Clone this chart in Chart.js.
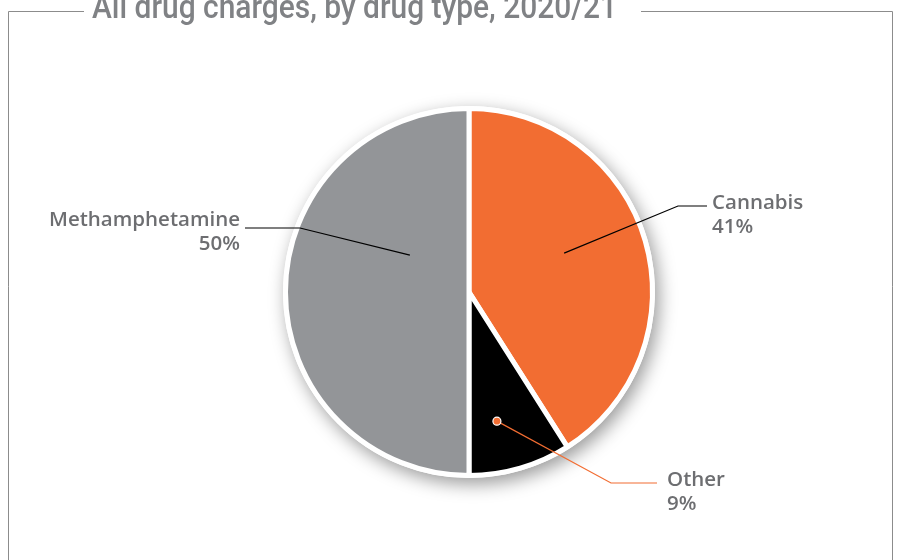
<!DOCTYPE html>
<html>
<head>
<meta charset="utf-8">
<script src="https://cdn.jsdelivr.net/npm/chart.js@4.4.0/dist/chart.umd.min.js"></script>
<style>
  html, body { margin: 0; padding: 0; background: #fff; }
</style>
</head>
<body>
<canvas id="canvas" width="902" height="560"></canvas>
<script>
// chart data
const chartTitle = 'All drug charges, by drug type, 2020/21';
const drugTypes = ['Cannabis', 'Other', 'Methamphetamine'];
const shares = [41, 9, 50];
const sliceColors = ['#f26d32', '#000000', '#939598'];

// callout layout, one per slice (angle offset from slice middle, depth into slice, elbow and text spot)
const callouts = [
  { dAngle: -6, depth: 0.56, elbow: [678, 206], end: [707, 206], text: [712, 209], align: 'left', color: '#000', dot: false },
  { dAngle: 4, depth: 0.72, elbow: [611, 483], end: [657, 483], text: [667, 486], align: 'left', color: '#f26d32', dot: true },
  { dAngle: 32, depth: 0.38, elbow: [300, 228], end: [245, 228], text: [240, 226], align: 'right', color: '#000', dot: false }
];

const frame = {
  id: 'frame',
  beforeDraw(chart) {
    const ctx = chart.ctx;
    ctx.save();
    ctx.strokeStyle = '#8c8c8c';
    ctx.lineWidth = 1;
    ctx.beginPath();
    ctx.moveTo(8.5, 600);
    ctx.lineTo(8.5, 11.5);
    ctx.lineTo(84, 11.5);
    ctx.moveTo(641, 11.5);
    ctx.lineTo(892.5, 11.5);
    ctx.lineTo(892.5, 600);
    ctx.stroke();

    // title, squeezed to the width it takes in the original
    ctx.font = '500 33px Roboto, sans-serif';
    ctx.fillStyle = '#808285';
    ctx.textBaseline = 'alphabetic';
    const w = ctx.measureText(chartTitle).width;
    ctx.translate(92, 18);
    ctx.scale(525 / w, 1);
    ctx.fillText(chartTitle, 0, 0);
    ctx.restore();
  }
};

const pieShadow = {
  id: 'pieShadow',
  beforeDatasetsDraw(chart) {
    const arc = chart.getDatasetMeta(0).data[0];
    if (!arc) return;
    const ctx = chart.ctx;
    ctx.save();
    ctx.shadowColor = 'rgba(0,0,0,0.4)';
    ctx.shadowBlur = 18;
    ctx.shadowOffsetX = 4;
    ctx.shadowOffsetY = 6;
    ctx.fillStyle = '#fff';
    ctx.beginPath();
    ctx.arc(arc.x, arc.y, arc.outerRadius + 2.5, 0, Math.PI * 2);
    ctx.fill();
    ctx.restore();
  }
};

const calloutLabels = {
  id: 'calloutLabels',
  afterDatasetsDraw(chart) {
    const ctx = chart.ctx;
    const arcs = chart.getDatasetMeta(0).data;
    ctx.save();
    arcs.forEach((arc, i) => {
      const c = callouts[i];
      const mid = (arc.startAngle + arc.endAngle) / 2 + c.dAngle * Math.PI / 180;
      const ax = arc.x + Math.cos(mid) * arc.outerRadius * c.depth;
      const ay = arc.y + Math.sin(mid) * arc.outerRadius * c.depth;

      ctx.strokeStyle = c.color;
      ctx.lineWidth = 1.2;
      ctx.beginPath();
      ctx.moveTo(ax, ay);
      ctx.lineTo(c.elbow[0], c.elbow[1]);
      ctx.lineTo(c.end[0], c.end[1]);
      ctx.stroke();

      if (c.dot) {
        ctx.beginPath();
        ctx.arc(ax, ay, 4, 0, Math.PI * 2);
        ctx.fillStyle = c.color;
        ctx.fill();
        ctx.strokeStyle = '#fff';
        ctx.lineWidth = 1.2;
        ctx.stroke();
      }

      ctx.font = '600 20.5px "Open Sans", sans-serif';
      ctx.fillStyle = '#6d6e71';
      ctx.textAlign = c.align;
      ctx.textBaseline = 'alphabetic';
      ctx.fillText(chart.data.labels[i], c.text[0], c.text[1]);
      ctx.fillText(chart.data.datasets[0].data[i] + '%', c.text[0], c.text[1] + 24);
    });
    ctx.restore();
  }
};

new Chart(document.getElementById('canvas').getContext('2d'), {
  type: 'pie',
  data: {
    labels: drugTypes,
    datasets: [{
      data: shares,
      backgroundColor: sliceColors,
      borderColor: '#ffffff',
      borderWidth: 5,
      hoverOffset: 0
    }]
  },
  options: {
    responsive: false,
    animation: false,
    layout: {
      padding: { top: 106, bottom: 82, left: 100, right: 64 }
    },
    plugins: {
      legend: { display: false },
      tooltip: { enabled: false }
    }
  },
  plugins: [frame, pieShadow, calloutLabels]
});
</script>
</body>
</html>
